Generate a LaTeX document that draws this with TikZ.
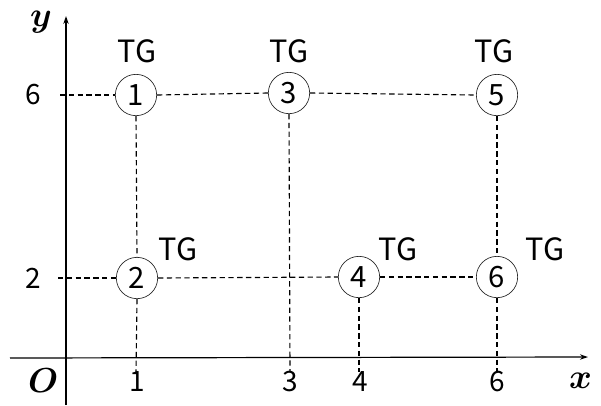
\documentclass[tikz,border=0pt]{standalone}
\usepackage{fontspec}
\setmainfont{Noto Sans CJK JP}
\usepackage{unicode-math}
\setmathfont{Latin Modern Math}
\usetikzlibrary{arrows.meta}
\begin{document}
\begin{tikzpicture}[x=0.75pt,y=-0.75pt,
  dashln/.style={line width=0.85pt,dash pattern=on 4pt off 2.6pt},
  stn/.style={circle,draw=black!85,line width=0.5pt,minimum size=31pt,inner sep=0pt,fill=white,font=\fontsize{22}{26}\selectfont},
  tg/.style={font=\fontsize{23}{27}\selectfont},
  tick/.style={font=\fontsize{21}{25}\selectfont},
  axlab/.style={font=\fontsize{26}{30}\selectfont,inner sep=0pt}]
\useasboundingbox (0,0) rectangle (601,405);
% coordinates
\coordinate (l6) at (60,95);
\coordinate (l2) at (58,278);
\coordinate (b1) at (136,372);
\coordinate (b3) at (290,372);
\coordinate (b4) at (359,372);
\coordinate (b6) at (497,372);
% stations
\node[stn] (c1) at (136,95) {1};
\node[stn] (c3) at (289,93) {3};
\node[stn] (c5) at (497,95) {5};
\node[stn] (c2) at (137,278) {2};
\node[stn] (c4) at (359,277) {4};
\node[stn] (c6) at (497,277) {6};
% dashed lines
\draw[dashln] (l6) -- (c1.west);
\draw[dashln] (c1.east) -- (c3.west);
\draw[dashln] (c3.east) -- (c5.west);
\draw[dashln] (l2) -- (c2.west);
\draw[dashln] (c2.east) -- (c4.west);
\draw[dashln] (c4.east) -- (c6.west);
\draw[dashln] (c1.south) -- (c2.north);
\draw[dashln] (c2.south) -- (b1);
\draw[dashln] (c3.south) -- (b3);
\draw[dashln] (c4.south) -- (b4);
\draw[dashln] (c5.south) -- (c6.north);
\draw[dashln] (c6.south) -- (b6);
% axes
\coordinate (xs) at (10,358);
\coordinate (xe) at (588,357);
\coordinate (ys) at (66,405);
\coordinate (ye) at (66,16);
\draw[line width=0.9pt,-{Stealth[length=6pt,width=4pt]}] (xs) -- (xe);
\draw[line width=0.9pt,-{Stealth[length=6pt,width=4pt]}] (ys) -- (ye);
% TG labels
\node[tg] (t1) at (137,51) {TG};
\node[tg] (t3) at (289,51) {TG};
\node[tg] (t5) at (494,51) {TG};
\node[tg] (t2) at (178,249) {TG};
\node[tg] (t4) at (398,249) {TG};
\node[tg] (t6) at (545,249) {TG};
% ticks
\node[tick] (y6) at (33,95) {6};
\node[tick] (y2) at (33,278) {2};
\node[tick] (x1) at (137,382) {1};
\node[tick] (x3) at (290,382) {3};
\node[tick] (x4) at (360,382) {4};
\node[tick] (x6) at (497,382) {6};
% axis labels
\node[axlab,anchor=base] (ly) at (41,26) {$\symbfit{y}$};
\node[axlab,anchor=base] (lx) at (581,388) {$\symbfit{x}$};
\node[axlab,anchor=base] (lo) at (43,392) {$\symbfit{O}$};
\end{tikzpicture}
\end{document}
